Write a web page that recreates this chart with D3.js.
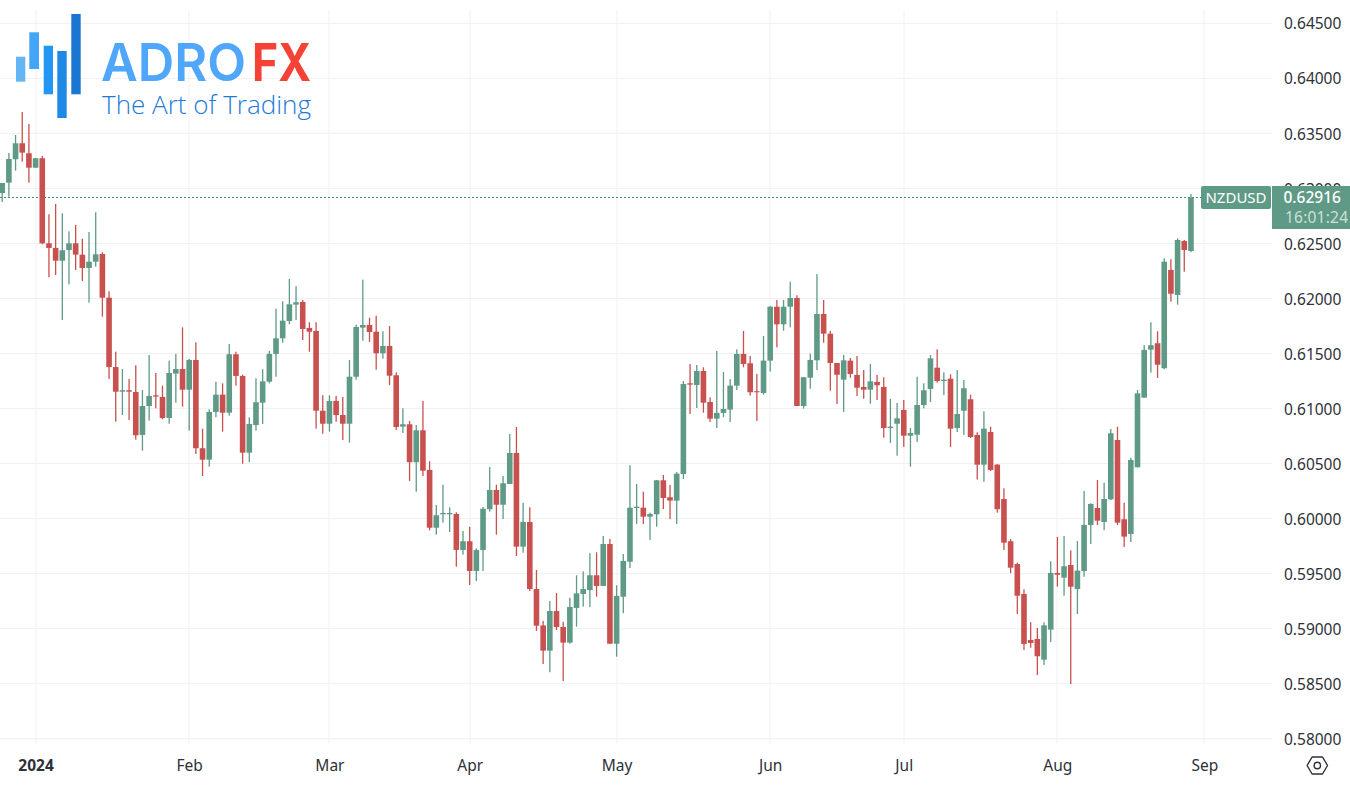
<!DOCTYPE html>
<html>
<head>
<meta charset="utf-8">
<title>NZDUSD</title>
<script src="https://cdn.jsdelivr.net/npm/d3@7"></script>
<style>
  html, body { margin: 0; padding: 0; background: #fff; }
  svg { display: block; }
  text { font-family: "Noto Sans", "Open Sans", sans-serif; }
</style>
</head>
<body>
<svg id="chart" width="1350" height="786"></svg>
<script>
// daily bars, first visible bar is late Dec 2023
var opens = [
  0.62958,0.63052,0.63265,0.63410,0.63319,0.63188,0.63274,0.62501,0.62459,0.62343,
  0.62440,0.62501,0.62398,0.62277,0.62334,0.62404,0.62007,0.61377,0.61153,0.61166,
  0.61150,0.60760,0.61023,0.61120,0.61105,0.60914,0.61317,0.61359,0.61171,0.61441,
  0.60639,0.60535,0.60969,0.61126,0.60962,0.61493,0.61296,0.60599,0.60850,0.61053,
  0.61244,0.61496,0.61638,0.61795,0.61944,0.61968,0.61732,0.61705,0.60980,0.60862,
  0.61069,0.60941,0.60862,0.61289,0.61735,0.61759,0.61698,0.61502,0.61568,0.61302,
  0.60835,0.60857,0.60512,0.60802,0.60442,0.59917,0.60039,0.60039,0.60042,0.59715,
  0.59794,0.59524,0.59715,0.60085,0.60260,0.60126,0.60314,0.60596,0.59745,0.59969,
  0.59360,0.59029,0.58800,0.59160,0.59015,0.58873,0.59188,0.59315,0.59351,0.59485,
  0.59388,0.59769,0.58863,0.59290,0.59608,0.60096,0.60099,0.60017,0.60039,0.60348,
  0.60194,0.60163,0.60405,0.61229,0.61214,0.61341,0.61059,0.60908,0.60960,0.60990,
  0.61208,0.61496,0.61411,0.61157,0.61141,0.61435,0.61925,0.61765,0.61925,0.62004,
  0.61023,0.61280,0.61438,0.61859,0.61680,0.61414,0.61262,0.61435,0.61305,0.61196,
  0.61171,0.61241,0.61196,0.60823,0.60862,0.60987,0.60753,0.60762,0.61032,0.61178,
  0.61371,0.61250,0.61271,0.60823,0.60980,0.61084,0.60760,0.60490,0.60787,0.60490,
  0.60178,0.59794,0.59587,0.59315,0.58897,0.58906,0.58718,0.58991,0.59506,0.59463,
  0.59578,0.59360,0.59524,0.59942,0.60096,0.59969,0.60175,0.60714,0.59994,0.59860,
  0.60466,0.61099,0.61535,0.61593,0.61366,0.62259,0.62032,0.62522,0.62431
];
var highs = [
  0.63049,0.63322,0.63485,0.63694,0.63585,0.63276,0.63295,0.62765,0.62858,0.62774,
  0.62610,0.62668,0.62543,0.62604,0.62783,0.62420,0.62065,0.61516,0.61359,0.61268,
  0.61393,0.61168,0.61486,0.61323,0.61208,0.61435,0.61496,0.61738,0.61450,0.61602,
  0.60817,0.60993,0.61244,0.61229,0.61586,0.61516,0.61307,0.60920,0.61275,0.61357,
  0.61523,0.61907,0.61974,0.62177,0.62111,0.61986,0.61784,0.61784,0.61120,0.61120,
  0.61114,0.61105,0.61441,0.61762,0.62171,0.61825,0.61844,0.61702,0.61750,0.61329,
  0.61002,0.60887,0.60850,0.61069,0.60521,0.60124,0.60308,0.60103,0.60057,0.59887,
  0.59926,0.59730,0.60105,0.60469,0.60308,0.60387,0.60769,0.60832,0.60144,0.60103,
  0.59533,0.59070,0.59251,0.59324,0.59061,0.59281,0.59485,0.59521,0.59685,0.59694,
  0.59842,0.59815,0.59394,0.59678,0.60484,0.60314,0.60244,0.60054,0.60351,0.60396,
  0.60305,0.60423,0.61250,0.61405,0.61396,0.61375,0.61102,0.61523,0.61332,0.61268,
  0.61538,0.61705,0.61477,0.61314,0.61659,0.61932,0.61986,0.61986,0.62152,0.62029,
  0.61287,0.61498,0.62222,0.61986,0.61705,0.61414,0.61486,0.61459,0.61477,0.61350,
  0.61405,0.61305,0.61284,0.61087,0.61050,0.61078,0.60823,0.61289,0.61229,0.61486,
  0.61538,0.61329,0.61311,0.61350,0.61259,0.61126,0.60784,0.60975,0.60835,0.60496,
  0.60275,0.59815,0.59599,0.59358,0.59058,0.59006,0.59058,0.59612,0.59833,0.59842,
  0.59712,0.59796,0.60251,0.60139,0.60351,0.60326,0.60814,0.60835,0.60144,0.60553,
  0.61168,0.61577,0.61784,0.61702,0.62365,0.62356,0.62547,0.62531,0.62949
];
var lows = [
  0.62877,0.62925,0.63161,0.63243,0.63052,0.63186,0.62492,0.62192,0.62213,0.61804,
  0.62129,0.62259,0.62159,0.61962,0.62289,0.61834,0.61268,0.60880,0.60941,0.60896,
  0.60717,0.60617,0.60890,0.61002,0.60902,0.60862,0.61053,0.61017,0.60799,0.60587,
  0.60387,0.60472,0.60921,0.60790,0.60935,0.61208,0.60499,0.60512,0.60799,0.60860,
  0.61229,0.61289,0.61598,0.61765,0.61804,0.61623,0.61516,0.60817,0.60771,0.60790,
  0.60880,0.60714,0.60690,0.61262,0.61616,0.61605,0.61353,0.61453,0.61214,0.60805,
  0.60778,0.60342,0.60244,0.60387,0.59894,0.59854,0.59963,0.59878,0.59563,0.59672,
  0.59397,0.59433,0.59524,0.60063,0.59854,0.59996,0.60314,0.59660,0.59690,0.59342,
  0.58979,0.58679,0.58604,0.58988,0.58524,0.58863,0.59018,0.59200,0.59197,0.59290,
  0.59388,0.58863,0.58745,0.59140,0.59551,0.59951,0.59951,0.59806,0.59926,0.60087,
  0.59996,0.59951,0.60360,0.60950,0.61005,0.60962,0.60878,0.60823,0.60920,0.60878,
  0.61168,0.61375,0.61117,0.60887,0.61126,0.61335,0.61556,0.61707,0.61738,0.61023,
  0.60999,0.61180,0.61350,0.61598,0.61162,0.61041,0.60969,0.61280,0.61114,0.61089,
  0.61044,0.61078,0.60735,0.60687,0.60572,0.60651,0.60472,0.60696,0.61002,0.61059,
  0.61235,0.61123,0.60651,0.60787,0.60760,0.60732,0.60355,0.60335,0.60432,0.60054,
  0.59715,0.59503,0.59133,0.58806,0.58827,0.58579,0.58670,0.58879,0.59381,0.59299,
  0.58497,0.59133,0.59472,0.59769,0.59942,0.59894,0.60169,0.59942,0.59742,0.59787,
  0.60466,0.61099,0.61326,0.61278,0.61357,0.61971,0.61944,0.62243,0.62420
];
var closes = [
  0.63049,0.63267,0.63410,0.63325,0.63188,0.63274,0.62501,0.62459,0.62343,0.62438,
  0.62501,0.62398,0.62277,0.62334,0.62401,0.62007,0.61377,0.61153,0.61166,0.61153,
  0.60757,0.61023,0.61114,0.61108,0.60914,0.61323,0.61359,0.61171,0.61441,0.60639,
  0.60535,0.60969,0.61126,0.60962,0.61493,0.61296,0.60599,0.60860,0.61057,0.61247,
  0.61496,0.61638,0.61798,0.61947,0.61965,0.61723,0.61698,0.60980,0.60862,0.61069,
  0.60941,0.60862,0.61289,0.61741,0.61759,0.61695,0.61502,0.61568,0.61298,0.60832,
  0.60857,0.60512,0.60802,0.60435,0.59917,0.60030,0.60051,0.60051,0.59715,0.59794,
  0.59524,0.59715,0.60090,0.60260,0.60126,0.60321,0.60596,0.59745,0.59969,0.59360,
  0.59027,0.58800,0.59160,0.59015,0.58873,0.59197,0.59321,0.59360,0.59485,0.59388,
  0.59769,0.58863,0.59297,0.59615,0.60099,0.60108,0.60017,0.60042,0.60348,0.60187,
  0.60163,0.60408,0.61223,0.61217,0.61341,0.61053,0.60908,0.60960,0.60996,0.61208,
  0.61496,0.61405,0.61148,0.61148,0.61435,0.61925,0.61765,0.61925,0.62004,0.61023,
  0.61284,0.61441,0.61859,0.61680,0.61414,0.61307,0.61438,0.61314,0.61189,0.61171,
  0.61247,0.61211,0.60823,0.60835,0.60911,0.60753,0.60778,0.61032,0.61166,0.61456,
  0.61250,0.61262,0.60817,0.60950,0.61184,0.60741,0.60490,0.60817,0.60442,0.60085,
  0.59781,0.59554,0.59299,0.58861,0.58870,0.58749,0.59030,0.59506,0.59490,0.59567,
  0.59381,0.59527,0.59942,0.60133,0.59981,0.60178,0.60775,0.59963,0.59836,0.60532,
  0.61138,0.61532,0.61575,0.61398,0.62334,0.62043,0.62531,0.62440,0.62916
];

var priceTicks = [0.58,0.585,0.59,0.595,0.6,0.605,0.61,0.615,0.62,0.625,0.63,0.635,0.64,0.645];
var monthLabels = ["2024","Feb","Mar","Apr","May","Jun","Jul","Aug","Sep"];
var monthBars = [5,28,49,70,92,115,135,158,180];

var symbol = "NZDUSD";
var lastPrice = 0.62916;
var countdown = "16:01:24";

var upColor = "#5f9a86",
    downColor = "#c8504f",
    gridColor = "#eff0f4",
    textColor = "#2e3138";

var svg = d3.select("#chart"),
    paneRight = 1272;

var x = d3.scaleLinear().domain([0, 180]).range([2.2, 1204.3]);
var y = d3.scaleLinear().domain([0.58, 0.645]).range([738.7, 23.3]);

var px = function(v) { return Math.round(v) + 0.5; };

// grid
var grid = svg.append("g").attr("stroke", gridColor).attr("stroke-width", 1);
grid.selectAll("line.h").data(priceTicks).enter().append("line")
    .attr("class", "h")
    .attr("x1", 0).attr("x2", paneRight)
    .attr("y1", function(d) { return y(d); })
    .attr("y2", function(d) { return y(d); });
grid.selectAll("line.v").data(monthBars).enter().append("line")
    .attr("class", "v")
    .attr("y1", 10).attr("y2", 744)
    .attr("x1", function(d) { return px(x(d)) - 0.5; })
    .attr("x2", function(d) { return px(x(d)) - 0.5; });

// logo
var logo = svg.append("g");
logo.selectAll("rect")
    .data([[16,56.7,9.3,25,"#64b5f6"],[29.3,32.3,9.7,36.7,"#42a5f5"],[43.7,45.7,9.3,48.6,"#2196f3"],[57.3,51,9.4,67,"#1e88e5"],[71.3,14,9.4,80.3,"#1976d2"]])
    .enter().append("rect")
    .attr("x", function(d) { return d[0]; })
    .attr("y", function(d) { return d[1]; })
    .attr("width", function(d) { return d[2]; })
    .attr("height", function(d) { return d[3]; })
    .attr("fill", function(d) { return d[4]; });
logo.append("text").text("ADRO")
    .attr("x", 101).attr("y", 81)
    .attr("textLength", 145).attr("lengthAdjust", "spacingAndGlyphs")
    .style("font-family", "Inter").style("font-size", "52px").style("font-weight", 600)
    .attr("fill", "#4fa6fb");
logo.append("text").text("FX")
    .attr("x", 252).attr("y", 81)
    .attr("textLength", 59).attr("lengthAdjust", "spacingAndGlyphs")
    .style("font-family", "Inter").style("font-size", "52px").style("font-weight", 700)
    .attr("fill", "#f44336");
logo.append("text").text("The Art of Trading")
    .attr("x", 102).attr("y", 114)
    .attr("textLength", 209).attr("lengthAdjust", "spacingAndGlyphs")
    .style("font-family", "Open Sans").style("font-size", "26px").style("font-weight", 300)
    .attr("fill", "#1e7ad6");

// last price line
svg.append("line")
    .attr("x1", 0).attr("x2", 1201)
    .attr("y1", 197.5).attr("y2", 197.5)
    .attr("stroke", "#3d8c74").attr("stroke-width", 1).attr("stroke-dasharray", "2,2");

// candles
var bars = svg.append("g").selectAll("g")
    .data(d3.range(closes.length))
    .enter().append("g")
    .attr("fill", function(i) { return closes[i] >= opens[i] ? upColor : downColor; });

bars.append("rect")
    .attr("x", function(i) { return x(i) - 0.65; })
    .attr("width", 1.3)
    .attr("y", function(i) { return y(highs[i]); })
    .attr("height", function(i) { return y(lows[i]) - y(highs[i]); });

bars.append("rect")
    .attr("x", function(i) { return x(i) - 2.8; })
    .attr("width", 5.6)
    .attr("y", function(i) { return y(Math.max(opens[i], closes[i])); })
    .attr("height", function(i) { return Math.max(1, Math.abs(y(opens[i]) - y(closes[i]))); });

// price axis
var yAxis = svg.append("g")
    .attr("transform", "translate(1276,0.7)")
    .call(d3.axisRight(y).tickValues(priceTicks).tickSize(0).tickPadding(8).tickFormat(d3.format(".5f")));
yAxis.select(".domain").remove();
yAxis.selectAll("text").style("font-size", "15.5px").attr("fill", textColor);

// time axis
var xAxis = svg.append("g")
    .attr("transform", "translate(0,760)")
    .call(d3.axisBottom(x).tickValues(monthBars).tickSize(0).tickPadding(0)
        .tickFormat(function(d, i) { return monthLabels[i]; }));
xAxis.select(".domain").remove();
xAxis.selectAll("text").style("font-size", "15.5px").attr("fill", textColor)
    .style("font-weight", function(d, i) { return i == 0 ? 700 : 400; });

// symbol and price tags
svg.append("rect")
    .attr("x", 1201).attr("y", 186).attr("width", 70).attr("height", 23).attr("rx", 2)
    .attr("fill", upColor);
svg.append("text").text(symbol)
    .attr("x", 1236).attr("y", 203).attr("text-anchor", "middle")
    .style("font-size", "15px").attr("fill", "#fff");
svg.append("rect")
    .attr("x", 1272).attr("y", 186).attr("width", 78).attr("height", 43)
    .attr("fill", upColor);
svg.append("text").text(d3.format(".5f")(lastPrice))
    .attr("x", 1283.5).attr("y", 203)
    .style("font-size", "15.5px").style("font-weight", 500).attr("fill", "#fff");
svg.append("text").text(countdown)
    .attr("x", 1285).attr("y", 223).attr("textLength", 63)
    .style("font-size", "15.5px").attr("fill", "#fff").attr("fill-opacity", 0.7);

// settings icon
var icon = svg.append("g").attr("transform", "translate(1317.3,765.5)")
    .attr("fill", "none").attr("stroke", "#2e3138").attr("stroke-width", 1.4);
icon.append("path").attr("d", "M-10.2,0 L-5.2,-8.5 L5.2,-8.5 L10.2,0 L5.2,8.5 L-5.2,8.5 Z").attr("stroke-linejoin", "round");
icon.append("circle").attr("r", 3.2);
</script>
</body>
</html>
